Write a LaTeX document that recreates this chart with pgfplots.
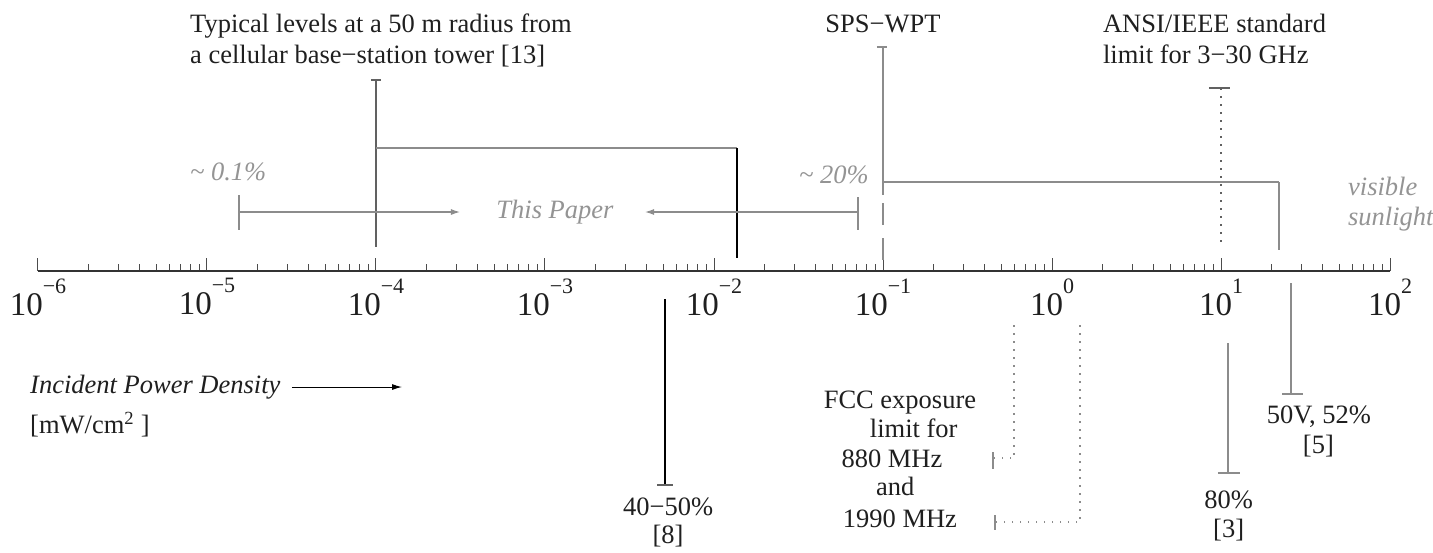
\documentclass[border=0pt]{standalone}
\usepackage{fontspec}
\setmainfont{Liberation Serif}
\usepackage{pgfplots}
\pgfplotsset{compat=1.18}
\usetikzlibrary{arrows.meta}
\definecolor{gtext}{gray}{0.58}
\definecolor{gline}{gray}{0.55}
\definecolor{dline}{gray}{0.38}
\definecolor{ink}{gray}{0.12}
\newcommand\dec[1]{\fontsize{33}{33}\selectfont 10\raisebox{22pt}{\fontsize{22}{22}\selectfont #1}}
\newcommand\ann{\fontsize{26.5}{30}\selectfont}
\begin{document}
\begin{tikzpicture}
\begin{axis}[
  xmode=log, log basis x=10,
  xmin=1e-6, xmax=1e2, ymin=-281, ymax=271,
  scale only axis, width=1352pt, height=552pt,
  axis x line*=middle, axis y line=none,
  clip=false,
  xtick={1e-6,1e-5,1e-4,1e-3,1e-2,1e-1,1,1e1,1e2},
  xticklabels={\dec{−6},\dec{−5},\dec{−4},\dec{−3},\dec{−2},\dec{−1},\dec{0},\dec{1},\dec{2}},
  minor xtick={2e-6,3e-6,4e-6,5e-6,6e-6,7e-6,8e-6,9e-6,
    2e-5,3e-5,4e-5,5e-5,6e-5,7e-5,8e-5,9e-5,
    2e-4,3e-4,4e-4,5e-4,6e-4,7e-4,8e-4,9e-4,
    2e-3,3e-3,4e-3,5e-3,6e-3,7e-3,8e-3,9e-3,
    2e-2,3e-2,4e-2,5e-2,6e-2,7e-2,8e-2,9e-2,
    0.2,0.3,0.4,0.5,0.6,0.7,0.8,0.9,
    2,3,4,5,6,7,8,9,
    20,30,40,50,60,70,80,90},
  tick align=inside,
  major tick length=13pt, minor tick length=7pt,
  axis line style={line width=1.6pt, black!80},
  every tick/.style={line width=1pt, black!70},
  xticklabel style={anchor=north, yshift=-4pt, text=ink},
]
% --- cellular base station (10^-4) ---
\addplot[dline, line width=1.3pt] coordinates {(1e-4,191) (1e-4,24)};
\addplot[dline, line width=1.3pt] coordinates {(9.34e-5,191) (1.071e-4,191)};
\addplot[gline, line width=1.3pt] coordinates {(1e-4,123) (0.01368,123)};
\addplot[black, line width=1.5pt] coordinates {(0.01368,123) (0.01368,13)};
% --- This Paper range ---
\addplot[gline, line width=1.3pt] coordinates {(1.545e-5,76) (1.545e-5,41)};
\addplot[gline, line width=1.1pt, -{Latex[length=9pt,width=6pt]}] coordinates {(1.545e-5,59) (3.14e-4,59)};
\addplot[gline, line width=1.3pt] coordinates {(0.0711,74) (0.0711,41)};
\addplot[gline, line width=1.1pt, -{Latex[length=9pt,width=6pt]}] coordinates {(0.0711,59) (3.91e-3,59)};
% --- SPS-WPT (10^-1) ---
\addplot[gline, line width=1.1pt] coordinates {(0.1,224) (0.1,76)};
\addplot[gline, line width=1.1pt] coordinates {(0.1,68) (0.1,46)};
\addplot[gline, line width=1.1pt] coordinates {(0.1,33) (0.1,11)};
\addplot[gline, line width=1.1pt] coordinates {(0.092,224) (0.1057,224)};
\addplot[gline, line width=1.3pt] coordinates {(0.1,89) (22.0,89)};
\addplot[gline, line width=1.5pt] coordinates {(22.0,89) (22.0,21)};
% --- ANSI/IEEE limit (10 mW/cm2) ---
\addplot[dline, line width=1.2pt, dash pattern=on 1.5pt off 6.5pt] coordinates {(10,183) (10,28)};
\addplot[dline, line width=1.3pt] coordinates {(8.49,183) (11.3,183)};
% --- 40-50% [8] ---
\addplot[black, line width=1.4pt] coordinates {(5.13e-3,-28) (5.13e-3,-214)};
\addplot[dline, line width=1.1pt] coordinates {(4.60e-3,-214) (5.71e-3,-214)};
% --- FCC exposure limits ---
\addplot[gline, line width=1.1pt, dash pattern=on 1.5pt off 6.5pt] coordinates {(0.596,-54) (0.596,-187) (0.448,-187)};
\addplot[gline, line width=2pt] coordinates {(0.448,-181) (0.448,-198)};
\addplot[gline, line width=1.1pt, dash pattern=on 1.5pt off 6.5pt] coordinates {(1.465,-54) (1.465,-251) (0.460,-251)};
\addplot[gline, line width=2pt] coordinates {(0.460,-244) (0.460,-259)};
% --- 80% [3] ---
\addplot[gline, line width=1.2pt] coordinates {(11.0,-72) (11.0,-202)};
\addplot[gline, line width=1.4pt] coordinates {(9.59,-202) (12.9,-202)};
% --- 50V, 52% [5] ---
\addplot[gline, line width=1.3pt] coordinates {(25.9,-12) (25.9,-123)};
\addplot[gline, line width=1.4pt] coordinates {(22.96,-123) (30.5,-123)};
% --- Incident power density arrow ---
\addplot[black, line width=1pt, -{Latex[length=10pt,width=6pt]}] coordinates {(3.18e-5,-116) (1.426e-4,-116)};

% --- texts ---
\node[anchor=base west, text=ink, font=\ann, inner sep=0pt] at (axis cs:7.93e-6,238) {Typical levels at a 50 m radius from};
\node[anchor=base west, text=ink, font=\ann, inner sep=0pt] at (axis cs:7.93e-6,208) {a cellular base−station tower [13]};
\node[anchor=base, text=ink, font=\ann, inner sep=0pt] at (axis cs:0.1,238) {SPS−WPT};
\node[anchor=base west, text=ink, font=\ann, inner sep=0pt] at (axis cs:2.0,238) {ANSI/IEEE standard};
\node[anchor=base west, text=ink, font=\ann, inner sep=0pt] at (axis cs:2.0,208) {limit for 3−30 GHz};
\node[anchor=base west, text=gtext, font=\ann\itshape, inner sep=0pt] at (axis cs:7.93e-6,91) {\textasciitilde\ 0.1\%};
\node[anchor=base, text=gtext, font=\ann\itshape, inner sep=0pt] at (axis cs:1.146e-3,53) {This Paper};
\node[anchor=base east, text=gtext, font=\ann\itshape, inner sep=0pt] at (axis cs:0.0826,88) {\textasciitilde\ 20\%};
\node[anchor=base west, text=gtext, font=\ann\itshape, inner sep=0pt] at (axis cs:56.4,76) {visible};
\node[anchor=base west, text=gtext, font=\ann\itshape, inner sep=0pt] at (axis cs:56.4,46) {sunlight};
\node[anchor=base west, text=ink, font=\ann\itshape, inner sep=0pt] at (axis cs:8.97e-7,-122) {Incident Power Density};
\node[anchor=base west, text=ink, font=\ann, inner sep=0pt] at (axis cs:8.97e-7,-162) {[mW/cm\textsuperscript{2} ]};
\node[anchor=base, text=ink, font=\ann, inner sep=0pt] at (axis cs:5.35e-3,-244) {40−50\%};
\node[anchor=base, text=ink, font=\ann, inner sep=0pt] at (axis cs:5.35e-3,-272) {[8]};
\node[anchor=base, text=ink, font=\ann, inner sep=0pt] at (axis cs:0.126,-137) {FCC exposure};
\node[anchor=base, text=ink, font=\ann, inner sep=0pt] at (axis cs:0.152,-166) {limit for};
\node[anchor=base, text=ink, font=\ann, inner sep=0pt] at (axis cs:0.113,-196) {880 MHz};
\node[anchor=base, text=ink, font=\ann, inner sep=0pt] at (axis cs:0.118,-224) {and};
\node[anchor=base, text=ink, font=\ann, inner sep=0pt] at (axis cs:0.126,-256) {1990 MHz};
\node[anchor=base, text=ink, font=\ann, inner sep=0pt] at (axis cs:11.1,-237) {80\%};
\node[anchor=base, text=ink, font=\ann, inner sep=0pt] at (axis cs:11.1,-266) {[3]};
\node[anchor=base, text=ink, font=\ann, inner sep=0pt] at (axis cs:38.0,-152) {50V, 52\%};
\node[anchor=base, text=ink, font=\ann, inner sep=0pt] at (axis cs:37.7,-182) {[5]};

\coordinate (tl) at (rel axis cs:-0.0281,1);
\coordinate (br) at (rel axis cs:1.0318,0);
\end{axis}
\pgfresetboundingbox
\path[use as bounding box] (tl) rectangle (br);
\end{tikzpicture}
\end{document}
